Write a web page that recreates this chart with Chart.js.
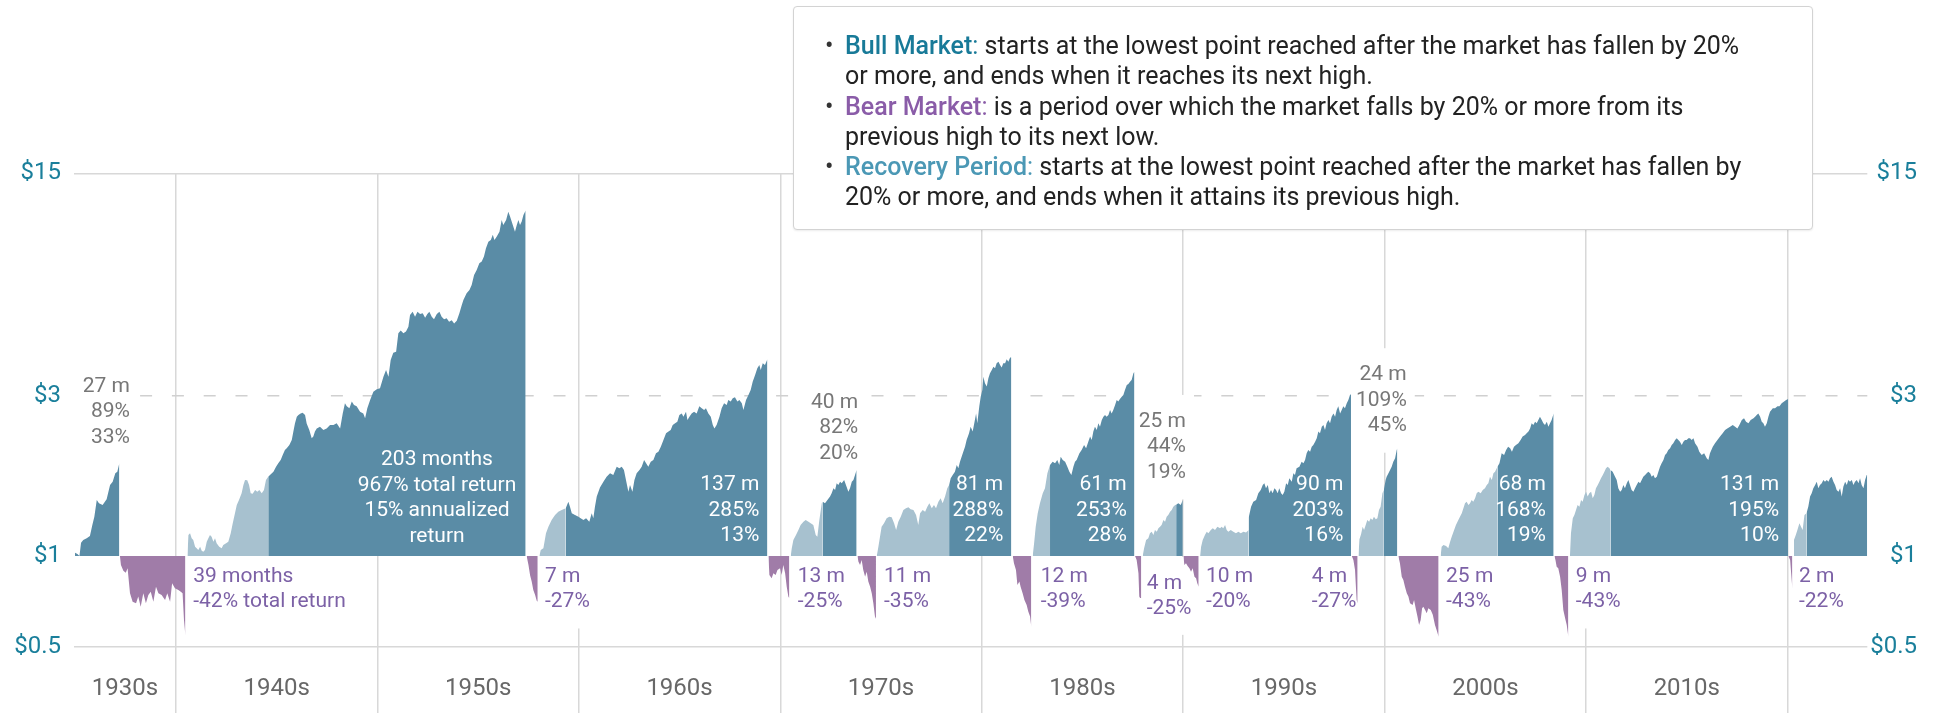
<!DOCTYPE html>
<html lang="en">
<head>
<meta charset="utf-8">
<title>Bull and bear markets</title>
<script src="https://cdn.jsdelivr.net/npm/chart.js@4.4.0/dist/chart.umd.min.js"></script>
<style>
  html, body { margin: 0; padding: 0; background: #fff; }
  #wrap { position: relative; width: 1939px; height: 713px; font-family: Roboto, "Noto Sans", sans-serif; }
  #chart { position: absolute; left: 0; top: 0; }
  #note {
    position: absolute; left: 793px; top: 6px; width: 1018px; height: 222px;
    border: 1.5px solid #d3d3d3; border-radius: 4px; background: #fff;
    box-shadow: 0 1px 2px rgba(0, 0, 0, 0.08);
  }
  #note ul { list-style: none; margin: 0; padding: 0; position: absolute; left: 51px; top: 24px; }
  #note li { position: relative; font-size: 25px; line-height: 30.3px; color: #222; white-space: nowrap; }
  #note li::before { content: "\2022"; position: absolute; left: -20px; top: 0; color: #333; }
  #note b { font-weight: 500; }
  #note .bull { color: #187a98; }
  #note .bear { color: #8a5ca8; }
  #note .rec { color: #4b98b5; }
</style>
</head>
<body>
<div id="wrap">
  <canvas id="chart" width="1939" height="713"></canvas>
  <div id="note">
    <ul>
      <li><span class="bull"><b>Bull Market</b>:</span> starts at the lowest point reached after the market has fallen by 20%<br>or more, and ends when it reaches its next high.</li>
      <li><span class="bear"><b>Bear Market</b>:</span> is a period over which the market falls by 20% or more from its<br>previous high to its next low.</li>
      <li><span class="rec"><b>Recovery Period</b>:</span> starts at the lowest point reached after the market has fallen by<br>20% or more, and ends when it attains its previous high.</li>
    </ul>
  </div>
</div>
<script>
// growth of $1 inside each phase, [year, value]
const bull1935 = [[1934.99,1.023],[1935.11,1.014],[1935.21,1.0],[1935.29,1.095],[1935.40,1.116],[1935.57,1.129],[1935.73,1.147],[1935.85,1.237],[1935.95,1.309],[1936.07,1.468],[1936.18,1.435],[1936.36,1.418],[1936.56,1.475],[1936.73,1.627],[1936.86,1.664],[1936.99,1.762],[1937.09,1.781],[1937.19,1.888]];
const bear1937 = [[1937.22,1],[1937.27,0.94],[1937.39,0.904],[1937.51,0.892],[1937.60,0.919],[1937.72,0.774],[1937.85,0.731],[1938.02,0.723],[1938.13,0.757],[1938.25,0.706],[1938.38,0.774],[1938.51,0.723],[1938.63,0.765],[1938.75,0.783],[1938.88,0.731],[1939.01,0.81],[1939.13,0.774],[1939.29,0.765],[1939.46,0.74],[1939.57,0.774],[1939.71,0.731],[1939.81,0.829],[1939.95,0.801],[1940.12,0.792],[1940.24,0.783],[1940.33,0.774],[1940.40,0.645],[1940.47,0.58]];
const rec1940 = [[1940.57,1],[1940.62,1.155],[1940.70,1.168],[1940.78,1.129],[1940.86,1.116],[1940.95,1.066],[1941.03,1.054],[1941.11,1.042],[1941.20,1.066],[1941.28,1.037],[1941.36,1.03],[1941.44,1.042],[1941.53,1.103],[1941.61,1.129],[1941.69,1.155],[1941.77,1.141],[1941.86,1.103],[1941.94,1.129],[1942.02,1.091],[1942.15,1.066],[1942.27,1.054],[1942.35,1.078],[1942.49,1.091],[1942.60,1.103],[1942.72,1.168],[1942.82,1.251],[1942.93,1.34],[1943.02,1.418],[1943.13,1.468],[1943.26,1.536],[1943.35,1.627],[1943.43,1.683],[1943.54,1.679],[1943.63,1.627],[1943.71,1.536],[1943.81,1.531],[1943.93,1.571],[1944.04,1.553],[1944.14,1.571],[1944.26,1.536],[1944.37,1.571],[1944.47,1.683],[1944.58,1.721]];
const bull1944 = [[1944.58,1.721],[1944.67,1.742],[1944.84,1.781],[1944.97,1.844],[1945.08,1.888],[1945.20,1.93],[1945.30,1.998],[1945.41,2.068],[1945.50,2.091],[1945.63,2.139],[1945.75,2.214],[1945.83,2.345],[1945.91,2.482],[1946.00,2.597],[1946.08,2.627],[1946.19,2.657],[1946.29,2.67],[1946.41,2.627],[1946.49,2.48],[1946.62,2.37],[1946.74,2.24],[1946.82,2.266],[1946.90,2.345],[1946.99,2.397],[1947.15,2.425],[1947.32,2.37],[1947.48,2.397],[1947.65,2.453],[1947.82,2.453],[1947.98,2.482],[1948.15,2.397],[1948.28,2.657],[1948.39,2.848],[1948.48,2.789],[1948.61,2.753],[1948.73,2.88],[1948.84,2.815],[1948.97,2.789],[1949.14,2.688],[1949.30,2.657],[1949.39,2.568],[1949.50,2.753],[1949.64,2.913],[1949.80,3.083],[1949.97,3.134],[1950.13,3.155],[1950.30,3.418],[1950.43,3.576],[1950.55,3.418],[1950.66,3.832],[1950.79,4.027],[1950.93,4.055],[1951.04,4.6],[1951.16,4.685],[1951.29,4.6],[1951.42,4.653],[1951.54,4.813],[1951.62,5.216],[1951.75,5.335],[1951.87,5.156],[1951.99,5.335],[1952.12,5.251],[1952.25,5.28],[1952.37,5.12],[1952.48,5.25],[1952.58,5.335],[1952.70,5.156],[1952.81,5.063],[1952.95,5.25],[1953.08,5.335],[1953.19,5.156],[1953.31,5.063],[1953.44,5.10],[1953.56,4.98],[1953.69,5.03],[1953.81,4.92],[1953.94,5.01],[1954.07,5.28],[1954.19,5.585],[1954.27,5.78],[1954.43,6.05],[1954.57,6.19],[1954.68,6.41],[1954.80,6.86],[1954.93,7.10],[1955.06,7.43],[1955.18,7.52],[1955.29,7.78],[1955.39,8.24],[1955.51,8.62],[1955.63,8.72],[1955.73,9.03],[1955.81,8.72],[1955.92,8.92],[1956.06,9.23],[1956.17,10.0],[1956.25,9.66],[1956.39,10.0],[1956.50,10.58],[1956.59,10.23],[1956.67,9.88],[1956.75,9.55],[1956.83,9.23],[1956.92,9.66],[1957.00,10.0],[1957.08,9.66],[1957.16,9.88],[1957.25,10.35],[1957.36,10.67]];
const bear1957 = [[1957.41,1],[1957.50,0.94],[1957.58,0.876],[1957.66,0.839],[1957.74,0.792],[1957.83,0.765],[1957.91,0.736],[1957.96,0.731]];
const rec1958 = [[1958.04,1],[1958.11,1.042],[1958.24,1.054],[1958.37,1.168],[1958.49,1.222],[1958.65,1.28],[1958.82,1.324],[1958.98,1.354],[1959.15,1.371],[1959.35,1.387]];
const bull1959 = [[1959.35,1.387],[1959.48,1.451],[1959.56,1.402],[1959.65,1.34],[1959.81,1.324],[1959.98,1.309],[1960.09,1.295],[1960.23,1.28],[1960.36,1.295],[1960.52,1.265],[1960.64,1.34],[1960.72,1.295],[1960.80,1.402],[1960.89,1.502],[1961.05,1.60],[1961.22,1.664],[1961.38,1.721],[1961.55,1.762],[1961.71,1.742],[1961.88,1.844],[1962.01,1.824],[1962.13,1.844],[1962.24,1.802],[1962.34,1.683],[1962.46,1.554],[1962.54,1.627],[1962.66,1.554],[1962.76,1.683],[1962.87,1.762],[1963.01,1.802],[1963.12,1.844],[1963.24,1.93],[1963.34,1.888],[1963.45,1.844],[1963.57,1.908],[1963.70,1.93],[1963.83,2.021],[1963.95,2.044],[1964.07,2.115],[1964.20,2.214],[1964.33,2.318],[1964.45,2.345],[1964.56,2.37],[1964.66,2.453],[1964.78,2.482],[1964.89,2.509],[1964.99,2.627],[1965.11,2.657],[1965.19,2.597],[1965.32,2.688],[1965.39,2.537],[1965.49,2.597],[1965.60,2.657],[1965.72,2.688],[1965.85,2.657],[1965.98,2.789],[1966.10,2.753],[1966.22,2.72],[1966.31,2.753],[1966.43,2.657],[1966.55,2.597],[1966.65,2.453],[1966.73,2.397],[1966.84,2.453],[1966.98,2.597],[1967.09,2.753],[1967.21,2.848],[1967.34,2.815],[1967.42,2.913],[1967.54,2.88],[1967.64,2.947],[1967.75,2.966],[1967.87,2.88],[1967.97,2.913],[1968.09,2.848],[1968.17,2.72],[1968.30,2.913],[1968.42,3.014],[1968.53,3.12],[1968.63,3.30],[1968.75,3.457],[1968.86,3.62],[1968.96,3.70],[1969.03,3.576],[1969.13,3.745],[1969.24,3.70],[1969.36,3.85]];
const bear1969 = [[1969.41,1],[1969.46,0.878],[1969.57,0.858],[1969.66,0.888],[1969.77,0.878],[1969.86,0.909],[1969.99,0.919],[1970.07,0.878],[1970.15,0.94],[1970.24,0.888],[1970.32,0.81],[1970.40,0.757],[1970.45,0.748]];
const rec1970 = [[1970.52,1],[1970.57,1.054],[1970.65,1.116],[1970.78,1.155],[1970.90,1.195],[1971.01,1.237],[1971.15,1.265],[1971.26,1.28],[1971.40,1.265],[1971.51,1.251],[1971.64,1.237],[1971.76,1.155],[1971.84,1.141],[1971.94,1.28],[1972.06,1.435],[1972.11,1.451]];
const bull1972 = [[1972.11,1.451],[1972.22,1.435],[1972.34,1.468],[1972.47,1.502],[1972.55,1.536],[1972.64,1.59],[1972.72,1.571],[1972.80,1.645],[1972.88,1.627],[1972.97,1.664],[1973.05,1.645],[1973.17,1.683],[1973.26,1.627],[1973.38,1.554],[1973.46,1.59],[1973.55,1.664],[1973.63,1.683],[1973.71,1.742],[1973.79,1.802]];
const bear1973 = [[1973.83,1],[1973.88,0.962],[1973.96,0.94],[1974.04,0.973],[1974.12,0.909],[1974.21,0.868],[1974.29,0.898],[1974.37,0.839],[1974.46,0.81],[1974.54,0.774],[1974.62,0.723],[1974.70,0.66],[1974.75,0.65]];
const rec1974 = [[1974.79,1],[1974.87,1.066],[1975.03,1.222],[1975.15,1.251],[1975.28,1.295],[1975.41,1.309],[1975.53,1.303],[1975.65,1.251],[1975.75,1.195],[1975.86,1.265],[1975.98,1.309],[1976.11,1.371],[1976.24,1.387],[1976.36,1.396],[1976.47,1.377],[1976.61,1.371],[1976.74,1.324],[1976.85,1.237],[1976.94,1.34],[1977.07,1.371],[1977.19,1.354],[1977.30,1.402],[1977.40,1.435],[1977.52,1.387],[1977.63,1.418],[1977.73,1.387],[1977.85,1.451],[1977.96,1.485],[1978.06,1.435],[1978.18,1.502],[1978.29,1.59],[1978.38,1.627]];
const bull1978 = [[1978.38,1.627],[1978.46,1.703],[1978.56,1.742],[1978.67,1.781],[1978.76,1.866],[1978.84,1.824],[1978.92,1.908],[1979.06,2.021],[1979.17,2.115],[1979.25,2.214],[1979.37,2.318],[1979.45,2.425],[1979.55,2.345],[1979.63,2.482],[1979.72,2.657],[1979.78,2.482],[1979.88,2.789],[1979.95,2.98],[1980.03,3.12],[1980.08,3.418],[1980.16,3.265],[1980.25,3.194],[1980.33,3.38],[1980.41,3.50],[1980.50,3.576],[1980.58,3.66],[1980.66,3.617],[1980.74,3.745],[1980.83,3.787],[1980.91,3.70],[1980.99,3.64],[1981.07,3.745],[1981.16,3.745],[1981.24,3.85],[1981.32,3.787],[1981.41,3.90],[1981.47,3.90]];
const bear1981 = [[1981.54,1],[1981.60,0.951],[1981.70,0.909],[1981.77,0.82],[1981.87,0.839],[1981.93,0.81],[1982.03,0.774],[1982.12,0.74],[1982.23,0.715],[1982.31,0.683],[1982.40,0.66],[1982.46,0.616]];
const rec1982 = [[1982.53,1],[1982.60,1.091],[1982.68,1.222],[1982.78,1.34],[1982.89,1.435],[1983.03,1.536],[1983.14,1.59],[1983.26,1.762],[1983.36,1.844],[1983.39,1.866]];
const bull1983 = [[1983.39,1.866],[1983.52,1.908],[1983.64,1.888],[1983.75,1.93],[1983.85,1.866],[1983.92,1.975],[1984.02,1.93],[1984.14,1.908],[1984.25,1.844],[1984.35,1.781],[1984.45,1.742],[1984.55,1.844],[1984.63,1.908],[1984.71,1.93],[1984.85,2.021],[1984.96,2.068],[1985.08,2.139],[1985.18,2.091],[1985.29,2.189],[1985.38,2.266],[1985.46,2.214],[1985.54,2.345],[1985.62,2.425],[1985.71,2.37],[1985.79,2.482],[1985.87,2.425],[1985.96,2.537],[1986.04,2.597],[1986.12,2.627],[1986.20,2.597],[1986.29,2.627],[1986.37,2.72],[1986.45,2.657],[1986.53,2.72],[1986.62,2.815],[1986.70,2.913],[1986.78,2.88],[1986.86,2.93],[1986.95,2.98],[1987.03,3.014],[1987.11,3.12],[1987.20,3.23],[1987.28,3.25],[1987.36,3.30],[1987.44,3.34],[1987.53,3.50],[1987.58,3.537]];
const bear1987 = [[1987.61,1],[1987.69,0.973],[1987.78,0.888],[1987.82,0.757],[1987.86,0.75],[1987.92,0.75]];
const rec1987 = [[1987.99,1],[1988.06,1.054],[1988.16,1.116],[1988.27,1.129],[1988.35,1.168],[1988.44,1.181],[1988.52,1.155],[1988.60,1.195],[1988.69,1.181],[1988.77,1.209],[1988.85,1.222],[1988.93,1.237],[1989.02,1.28],[1989.10,1.265],[1989.18,1.309],[1989.26,1.324],[1989.35,1.354],[1989.43,1.371],[1989.51,1.402],[1989.60,1.418],[1989.65,1.42]];
const bull1989 = [[1989.65,1.42],[1989.76,1.435],[1989.88,1.418],[1989.98,1.468]];
const bear1990 = [[1990.01,1],[1990.06,0.94],[1990.14,0.951],[1990.22,0.934],[1990.31,0.919],[1990.39,0.898],[1990.47,0.919],[1990.56,0.868],[1990.64,0.858],[1990.70,0.829],[1990.77,0.81]];
const rec1990 = [[1990.84,1],[1990.89,1.066],[1990.97,1.116],[1991.08,1.155],[1991.17,1.181],[1991.25,1.168],[1991.37,1.195],[1991.47,1.209],[1991.58,1.195],[1991.70,1.222],[1991.83,1.209],[1991.91,1.222],[1991.99,1.209],[1992.08,1.237],[1992.16,1.195],[1992.24,1.181],[1992.36,1.195],[1992.49,1.181],[1992.62,1.168],[1992.74,1.181],[1992.86,1.168],[1992.99,1.181],[1993.12,1.175],[1993.25,1.195]];
const bull1993 = [[1993.25,1.30],[1993.37,1.402],[1993.48,1.451],[1993.62,1.468],[1993.73,1.536],[1993.85,1.571],[1993.95,1.627],[1994.03,1.645],[1994.11,1.59],[1994.20,1.627],[1994.28,1.536],[1994.36,1.571],[1994.44,1.536],[1994.53,1.59],[1994.61,1.571],[1994.69,1.536],[1994.77,1.59],[1994.86,1.536],[1994.94,1.519],[1995.02,1.554],[1995.11,1.645],[1995.19,1.627],[1995.27,1.703],[1995.39,1.664],[1995.47,1.762],[1995.55,1.742],[1995.63,1.824],[1995.77,1.844],[1995.88,1.908],[1995.97,1.888],[1996.05,1.93],[1996.13,2.021],[1996.21,2.068],[1996.30,2.044],[1996.38,2.115],[1996.46,2.139],[1996.55,2.189],[1996.63,2.24],[1996.71,2.345],[1996.79,2.318],[1996.88,2.425],[1996.96,2.453],[1997.04,2.37],[1997.12,2.482],[1997.21,2.537],[1997.29,2.482],[1997.37,2.597],[1997.46,2.657],[1997.54,2.597],[1997.62,2.72],[1997.70,2.789],[1997.79,2.657],[1997.87,2.72],[1997.95,2.789],[1998.03,2.753],[1998.12,2.848],[1998.20,2.913],[1998.28,3.014],[1998.33,3.03]];
const bear1998 = [[1998.37,1],[1998.45,0.973],[1998.53,0.909],[1998.61,0.74],[1998.66,0.723]];
const rec1998 = [[1998.70,1],[1998.75,1.121],[1998.83,1.16],[1998.91,1.222],[1998.98,1.195],[1999.06,1.237],[1999.14,1.28],[1999.23,1.265],[1999.31,1.295],[1999.39,1.28],[1999.47,1.309],[1999.56,1.286],[1999.64,1.295],[1999.72,1.371],[1999.80,1.402],[1999.89,1.536],[1999.96,1.571]];
const bull2000 = [[1999.96,1.571],[2000.05,1.683],[2000.10,1.721],[2000.19,1.762],[2000.27,1.802],[2000.35,1.844],[2000.43,1.908],[2000.52,1.953],[2000.60,2.068],[2000.63,2.09]];
const bear2000 = [[2000.68,1],[2000.76,0.951],[2000.85,0.868],[2000.93,0.848],[2001.01,0.81],[2001.10,0.774],[2001.18,0.757],[2001.26,0.723],[2001.39,0.715],[2001.46,0.74],[2001.56,0.691],[2001.63,0.66],[2001.71,0.623],[2001.79,0.645],[2001.86,0.699],[2001.92,0.706],[2002.01,0.691],[2002.09,0.675],[2002.17,0.699],[2002.29,0.691],[2002.39,0.668],[2002.50,0.623],[2002.58,0.602],[2002.68,0.575]];
const rec2002 = [[2002.78,1],[2002.83,1.066],[2002.92,1.078],[2003.05,1.07],[2003.16,1.054],[2003.25,1.103],[2003.33,1.141],[2003.45,1.195],[2003.54,1.237],[2003.66,1.28],[2003.74,1.309],[2003.83,1.34],[2003.91,1.387],[2003.99,1.435],[2004.07,1.451],[2004.16,1.418],[2004.24,1.435],[2004.32,1.468],[2004.40,1.451],[2004.49,1.485],[2004.57,1.536],[2004.65,1.554],[2004.77,1.536],[2004.87,1.571],[2004.98,1.59],[2005.07,1.627],[2005.15,1.645],[2005.23,1.721],[2005.32,1.683],[2005.40,1.762],[2005.48,1.781],[2005.60,1.844]];
const bull2005 = [[2005.60,1.844],[2005.70,1.888],[2005.81,2.021],[2005.93,1.998],[2006.03,2.068],[2006.13,2.115],[2006.23,2.091],[2006.32,2.044],[2006.42,2.115],[2006.52,2.139],[2006.64,2.164],[2006.75,2.214],[2006.85,2.266],[2006.97,2.292],[2007.05,2.318],[2007.14,2.345],[2007.22,2.397],[2007.30,2.482],[2007.38,2.453],[2007.47,2.509],[2007.55,2.482],[2007.63,2.537],[2007.71,2.597],[2007.80,2.537],[2007.88,2.482],[2007.96,2.453],[2008.05,2.509],[2008.13,2.425],[2008.21,2.482],[2008.29,2.537],[2008.39,2.657]];
const bear2008 = [[2008.43,1],[2008.48,0.973],[2008.54,0.929],[2008.62,0.919],[2008.71,0.868],[2008.79,0.792],[2008.87,0.691],[2008.96,0.653],[2009.04,0.623],[2009.12,0.575]];
const rec2009 = [[2009.20,1],[2009.25,1.168],[2009.34,1.295],[2009.42,1.324],[2009.50,1.371],[2009.58,1.418],[2009.67,1.402],[2009.75,1.468],[2009.83,1.451],[2009.92,1.519],[2010.00,1.554],[2010.08,1.502],[2010.16,1.536],[2010.25,1.554],[2010.33,1.485],[2010.41,1.519],[2010.49,1.59],[2010.58,1.627],[2010.66,1.664],[2010.74,1.703],[2010.83,1.742],[2010.91,1.781],[2010.99,1.824],[2011.07,1.844],[2011.16,1.824],[2011.21,1.802]];
const bull2011 = [[2011.21,1.802],[2011.32,1.781],[2011.44,1.721],[2011.52,1.683],[2011.60,1.59],[2011.69,1.554],[2011.77,1.571],[2011.85,1.627],[2011.93,1.59],[2012.02,1.645],[2012.10,1.683],[2012.18,1.627],[2012.26,1.571],[2012.35,1.554],[2012.43,1.59],[2012.51,1.627],[2012.60,1.664],[2012.68,1.645],[2012.76,1.683],[2012.84,1.721],[2012.93,1.742],[2013.01,1.762],[2013.09,1.781],[2013.18,1.762],[2013.26,1.721],[2013.34,1.742],[2013.42,1.703],[2013.51,1.721],[2013.59,1.781],[2013.67,1.844],[2013.75,1.888],[2013.84,1.93],[2013.92,1.998],[2014.00,2.021],[2014.08,2.068],[2014.17,2.091],[2014.25,2.139],[2014.33,2.164],[2014.42,2.214],[2014.50,2.24],[2014.58,2.214],[2014.66,2.189],[2014.75,2.139],[2014.83,2.189],[2014.91,2.214],[2014.99,2.214],[2015.08,2.24],[2015.16,2.24],[2015.24,2.214],[2015.33,2.24],[2015.41,2.164],[2015.53,2.115],[2015.62,2.044],[2015.74,1.998],[2015.86,2.021],[2015.99,1.953],[2016.07,1.93],[2016.15,2.021],[2016.29,2.115],[2016.40,2.164],[2016.52,2.214],[2016.65,2.266],[2016.78,2.318],[2016.90,2.37],[2017.01,2.397],[2017.15,2.425],[2017.28,2.453],[2017.40,2.425],[2017.51,2.397],[2017.61,2.453],[2017.73,2.537],[2017.84,2.568],[2017.94,2.509],[2018.06,2.482],[2018.17,2.537],[2018.31,2.568],[2018.39,2.597],[2018.47,2.627],[2018.55,2.657],[2018.64,2.597],[2018.72,2.509],[2018.80,2.482],[2018.88,2.425],[2018.97,2.482],[2019.05,2.597],[2019.13,2.688],[2019.27,2.753],[2019.38,2.753],[2019.50,2.789],[2019.60,2.789],[2019.71,2.848],[2019.83,2.88],[2019.93,2.913],[2020.03,2.93]];
const bear2020 = [[2020.04,1],[2020.13,0.973],[2020.18,0.888],[2020.24,0.80]];
const rec2020 = [[2020.29,1],[2020.32,1.116],[2020.41,1.155],[2020.49,1.195],[2020.59,1.251],[2020.67,1.222],[2020.75,1.195],[2020.84,1.324],[2020.94,1.34]];
const bull2020 = [[2020.94,1.34],[2021.03,1.402],[2021.12,1.502],[2021.20,1.536],[2021.28,1.59],[2021.37,1.627],[2021.45,1.664],[2021.53,1.59],[2021.61,1.627],[2021.70,1.645],[2021.78,1.683],[2021.86,1.664],[2021.95,1.683],[2022.03,1.664],[2022.11,1.703],[2022.19,1.721],[2022.28,1.664],[2022.36,1.627],[2022.44,1.571],[2022.53,1.554],[2022.61,1.59],[2022.69,1.502],[2022.77,1.607],[2022.86,1.664],[2022.94,1.627],[2023.02,1.683],[2023.10,1.664],[2023.19,1.683],[2023.27,1.627],[2023.35,1.664],[2023.44,1.683],[2023.52,1.645],[2023.60,1.703],[2023.68,1.627],[2023.77,1.59],[2023.85,1.683],[2023.93,1.742],[2023.96,1.742]];

const bullSegments = [bull1935, bull1944, bull1959, bull1972, bull1978, bull1983, bull1989, bull1993, bull2000, bull2005, bull2011, bull2020];
const recoverySegments = [rec1940, rec1958, rec1970, rec1974, rec1982, rec1987, rec1990, rec1998, rec2002, rec2009, rec2020];
const bearSegments = [bear1937, bear1957, bear1969, bear1973, bear1981, bear1987, bear1990, bear1998, bear2000, bear2008, bear2020];

// statistics printed beside each phase
const bullMonths = [27, 203, 137, 40, 81, 61, 25, 90, 24, 68, 131];
const bullTotal = [89, 967, 285, 82, 288, 253, 44, 203, 109, 168, 195];
const bullAnnual = [33, 15, 13, 20, 22, 28, 19, 16, 45, 19, 10];
const bearMonths = [39, 7, 13, 11, 12, 4, 10, 4, 25, 9, 2];
const bearTotal = [-42, -27, -25, -35, -39, -25, -20, -27, -43, -43, -22];

// axes
const decadeLines = [1940, 1950, 1960, 1970, 1980, 1990, 2000, 2010, 2020];
const decadeLabels = ['1930s', '1940s', '1950s', '1960s', '1970s', '1980s', '1990s', '2000s', '2010s'];
const yTickLabels = ['$0.5', '$1', '$3', '$15'];

const xStart = 1934.94;
const xEnd = 2023.96;
const yMin = 0.537;
const yMax = 13.77;
const yTickValues = [yMin, 1, 3, yMax];
const decadeCenters = decadeLabels.map((d, i) => i === 0 ? (xStart + decadeLines[0]) / 2 : decadeLines[i - 1] + 5);

const BULL = '#5a8ca6';
const RECOVERY = '#a7c1cf';
const BEAR = '#a07ca8';
const GRID = '#d8d8d8';
const TEAL = '#1a7f9b';
const FONT = 'Roboto, "Noto Sans", sans-serif';

// where the stat blocks sit (year, value of first line)
const bullSpots = [
    { x: 1937.72, y: 3.19, align: 'right', out: true },
    { x: 1952.96, y: 1.93, align: 'center' },
    { x: 1968.96, y: 1.627, align: 'right' },
    { x: 1973.87, y: 2.86, align: 'right', out: true },
    { x: 1981.07, y: 1.627, align: 'right' },
    { x: 1987.20, y: 1.627, align: 'right' },
    { x: 1990.14, y: 2.51, align: 'right', out: true },
    { x: 1997.95, y: 1.627, align: 'right' },
    { x: 2001.10, y: 3.457, align: 'right', out: true },
    { x: 2008.01, y: 1.627, align: 'right' },
    { x: 2019.58, y: 1.627, align: 'right' }
];
const bearSpots = [
    { x: 1940.86, y: 0.866 }, { x: 1958.32, y: 0.866 }, { x: 1970.87, y: 0.866 },
    { x: 1975.15, y: 0.866 }, { x: 1982.93, y: 0.866 }, { x: 1988.19, y: 0.829 },
    { x: 1991.13, y: 0.866 }, { x: 1996.38, y: 0.866 }, { x: 2003.05, y: 0.866 },
    { x: 2009.49, y: 0.866 }, { x: 2020.57, y: 0.866 }
];

function bullLines(i) {
    if (i === 1) {
        return [bullMonths[i] + ' months', bullTotal[i] + '% total return', bullAnnual[i] + '% annualized', 'return'];
    }
    return [bullMonths[i] + ' m', bullTotal[i] + '%', bullAnnual[i] + '%'];
}

function bearLines(i) {
    if (i === 0) {
        return [bearMonths[i] + ' months', bearTotal[i] + '% total return'];
    }
    return [bearMonths[i] + ' m', bearTotal[i] + '%'];
}

function allLabels() {
    const list = [];
    bullSpots.forEach((s, i) => {
        list.push({ x: s.x, y: s.y, align: s.align, lines: bullLines(i), lineH: 25.5,
            color: s.out ? '#777777' : '#ffffff', box: !!s.out });
    });
    bearSpots.forEach((s, i) => {
        list.push({ x: s.x, y: s.y, align: 'left', lines: bearLines(i), lineH: 25,
            color: '#7c61a6', box: true });
    });
    return list;
}

const segmentLabels = {
    id: 'segmentLabels',
    beforeDatasetsDraw(chart) {
        const ctx = chart.ctx;
        const xs = chart.scales.x, ys = chart.scales.y;
        ctx.save();
        ctx.font = '21px ' + FONT;
        ctx.fillStyle = '#ffffff';
        allLabels().filter(l => l.box).forEach(l => {
            const w = Math.max(...l.lines.map(t => ctx.measureText(t).width));
            const px = xs.getPixelForValue(l.x);
            const top = ys.getPixelForValue(l.y) - l.lineH / 2;
            let left = px;
            if (l.align === 'right') left = px - w;
            if (l.align === 'center') left = px - w / 2;
            ctx.fillRect(left - 8, top - 14, w + 16, l.lines.length * l.lineH + 28);
        });
        ctx.restore();
    },
    afterDatasetsDraw(chart) {
        const ctx = chart.ctx;
        const xs = chart.scales.x, ys = chart.scales.y;
        ctx.save();
        ctx.font = '21px ' + FONT;
        ctx.textBaseline = 'middle';
        allLabels().forEach(l => {
            const px = xs.getPixelForValue(l.x);
            const py = ys.getPixelForValue(l.y);
            ctx.fillStyle = l.color;
            ctx.textAlign = l.align;
            l.lines.forEach((t, k) => ctx.fillText(t, px, py + k * l.lineH));
        });
        ctx.restore();
    }
};

function area(seg, color) {
    return {
        data: seg.map(p => ({ x: p[0], y: p[1] })),
        xAxisID: 'x',
        yAxisID: 'y',
        backgroundColor: color,
        borderWidth: 0,
        pointRadius: 0,
        pointHoverRadius: 0,
        tension: 0,
        fill: { value: 1 }
    };
}

const datasets = []
    .concat(recoverySegments.map(s => area(s, RECOVERY)))
    .concat(bullSegments.map(s => area(s, BULL)))
    .concat(bearSegments.map(s => area(s, BEAR)));

const logAxis = {
    type: 'logarithmic',
    axis: 'y',
    min: yMin,
    max: yMax,
    bounds: 'data',
    border: { display: false }
};

new Chart(document.getElementById('chart'), {
    type: 'line',
    data: { datasets: datasets },
    options: {
        responsive: false,
        animation: false,
        devicePixelRatio: 1,
        layout: { padding: { top: 173.3, right: 22, bottom: 0, left: 0 } },
        plugins: { legend: { display: false }, tooltip: { enabled: false } },
        events: [],
        scales: {
            x: {
                type: 'linear',
                axis: 'x',
                position: 'bottom',
                weight: 0,
                min: xStart,
                max: xEnd,
                bounds: 'data',
                afterBuildTicks: s => { s.ticks = decadeLines.map(v => ({ value: v })); },
                afterFit: s => { s.height = 0; },
                ticks: { display: false },
                grid: { color: GRID, lineWidth: 1.5, drawTicks: true, tickLength: 67, tickColor: GRID, tickWidth: 1.5 },
                border: { display: false }
            },
            decades: {
                type: 'linear',
                axis: 'x',
                position: 'bottom',
                weight: 1,
                min: xStart,
                max: xEnd,
                bounds: 'data',
                afterBuildTicks: s => { s.ticks = decadeCenters.map(v => ({ value: v })); },
                afterFit: s => { s.height = 66.3; },
                ticks: {
                    callback: (v, i) => decadeLabels[i],
                    color: '#686868',
                    font: { family: FONT, size: 24 },
                    padding: 28,
                    maxRotation: 0,
                    autoSkip: false
                },
                grid: { display: false, drawTicks: false },
                border: { display: false }
            },
            y: Object.assign({}, logAxis, {
                position: 'left',
                weight: 0,
                afterBuildTicks: s => { s.ticks = yTickValues.map(v => ({ value: v })); },
                afterFit: s => { s.width = 74; },
                ticks: {
                    callback: (v, i) => yTickLabels[i],
                    color: TEAL,
                    font: { family: FONT, size: 24 },
                    padding: 13,
                    autoSkip: false
                },
                grid: {
                    color: c => (c.tick && (c.tick.value === 3 || c.tick.value === 1)) ? 'rgba(0,0,0,0)' : GRID,
                    lineWidth: 1.5,
                    drawTicks: false
                }
            }),
            yDash: Object.assign({}, logAxis, {
                position: 'left',
                weight: 1,
                afterBuildTicks: s => { s.ticks = [{ value: 3 }]; },
                afterFit: s => { s.width = 0; },
                ticks: { display: false },
                grid: { color: '#d0d0d0', lineWidth: 1.5, drawTicks: false },
                border: { display: false, dash: [12, 19.8], dashOffset: 29.3 }
            }),
            yRight: Object.assign({}, logAxis, {
                position: 'right',
                weight: 0,
                afterBuildTicks: s => { s.ticks = yTickValues.map(v => ({ value: v })); },
                afterFit: s => { s.width = 49.7; },
                ticks: {
                    callback: (v, i) => yTickLabels[i],
                    color: TEAL,
                    font: { family: FONT, size: 24 },
                    padding: 0,
                    crossAlign: 'far',
                    autoSkip: false
                },
                grid: { display: false, drawTicks: false }
            })
        }
    },
    plugins: [segmentLabels]
});
</script>
</body>
</html>
